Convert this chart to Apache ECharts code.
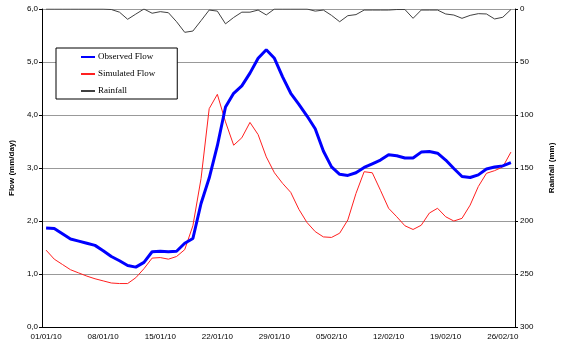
<!DOCTYPE html>
<html>
<head>
<meta charset="utf-8">
<script src="https://cdn.jsdelivr.net/npm/echarts@6/dist/echarts.min.js"></script>
<style>
html,body{margin:0;padding:0;background:#fff;}
#chart{width:564px;height:348px;}
</style>
</head>
<body>
<div id="chart"></div>
<script>
// One value per day, 01/01/10 .. 27/02/10
const dates = [
'01/01/10','02/01/10','03/01/10','04/01/10','05/01/10','06/01/10','07/01/10','08/01/10','09/01/10','10/01/10',
'11/01/10','12/01/10','13/01/10','14/01/10','15/01/10','16/01/10','17/01/10','18/01/10','19/01/10','20/01/10',
'21/01/10','22/01/10','23/01/10','24/01/10','25/01/10','26/01/10','27/01/10','28/01/10','29/01/10','30/01/10',
'31/01/10','01/02/10','02/02/10','03/02/10','04/02/10','05/02/10','06/02/10','07/02/10','08/02/10','09/02/10',
'10/02/10','11/02/10','12/02/10','13/02/10','14/02/10','15/02/10','16/02/10','17/02/10','18/02/10','19/02/10',
'20/02/10','21/02/10','22/02/10','23/02/10','24/02/10','25/02/10','26/02/10','27/02/10'
];
const observedFlow = [
1.87,1.86,1.76,1.66,1.62,1.58,1.54,1.44,1.33,1.25,
1.16,1.13,1.22,1.42,1.43,1.42,1.43,1.58,1.67,2.33,
2.81,3.42,4.15,4.41,4.55,4.79,5.07,5.23,5.07,4.72,
4.41,4.20,3.98,3.74,3.32,3.02,2.88,2.86,2.91,3.01,
3.08,3.15,3.25,3.23,3.19,3.19,3.30,3.31,3.28,3.15,
2.99,2.84,2.82,2.87,2.98,3.02,3.04,3.10
];
const simulatedFlow = [
1.45,1.28,1.18,1.08,1.02,0.96,0.91,0.87,0.83,0.82,
0.82,0.93,1.10,1.30,1.31,1.28,1.33,1.46,1.91,2.80,
4.12,4.39,3.87,3.43,3.57,3.86,3.63,3.21,2.91,2.71,
2.54,2.22,1.97,1.80,1.70,1.69,1.77,2.02,2.52,2.93,
2.91,2.58,2.24,2.08,1.91,1.84,1.92,2.15,2.24,2.08,
2.00,2.05,2.30,2.65,2.90,2.95,3.02,3.30
];
const rainfall = [
0,0,0,0,0,0,0,0,0.5,3,
9.7,4.8,0,4,2.5,3.5,12,22,20.8,11,
1,2,14,8,3,3,1,5.6,0,0,
0,0,0,2,1,6,12,6.3,5.3,1,
1,1,1,0.5,0.5,8.8,1,1,1,4.7,
5.7,8.8,6,4.4,4.7,9.4,7.8,0.5
];
const flowTicks = [0,1,2,3,4,5,6];
const rainTicks = [0,50,100,150,200,250,300];

const chart = echarts.init(document.getElementById('chart'), null, {renderer:'canvas'});
const axisFont = {fontFamily:'Liberation Sans, Arial, sans-serif', fontSize:8, color:'#000'};
chart.setOption({
  animation:false,
  backgroundColor:'#fff',
  grid:{left:27, right:33, top:9, bottom:21, containLabel:false},
  legend:{
    orient:'vertical', left:56, top:48,
    data:['Observed Flow','Simulated Flow','Rainfall'],
    backgroundColor:'#fff', borderColor:'#000', borderWidth:1, borderRadius:0,
    padding:[4,22,3,24],
    itemWidth:14, itemHeight:10, itemGap:7,
    itemStyle:{opacity:0},
    textStyle:{fontFamily:'Liberation Serif, Times New Roman, serif', fontSize:9, color:'#000', lineHeight:10, padding:[0,0,0,-2]}
  },
  xAxis:{
    type:'category', data:dates, boundaryGap:true,
    axisLine:{onZero:false, lineStyle:{color:'#000', width:1}},
    axisTick:{interval:6, alignWithLabel:false, length:3, lineStyle:{color:'#000'}},
    axisLabel:Object.assign({interval:6, margin:6}, axisFont),
    splitLine:{show:false}
  },
  yAxis:[
    {
      type:'value', min:flowTicks[0], max:flowTicks[flowTicks.length-1], interval:1, position:'left',
      name:'Flow (mm/day)', nameLocation:'middle', nameRotate:90, nameGap:21,
      nameTextStyle:{fontFamily:'Liberation Sans, Arial, sans-serif', fontSize:8, fontWeight:'bold', color:'#000'},
      axisLine:{show:true, lineStyle:{color:'#000', width:1}},
      axisTick:{show:true, length:3, lineStyle:{color:'#000'}},
      axisLabel:Object.assign({margin:4, formatter:v=>v.toFixed(1).replace('.',',')}, axisFont),
      splitLine:{show:true, lineStyle:{color:'#999', width:1}}
    },
    {
      type:'value', min:rainTicks[0], max:rainTicks[rainTicks.length-1], interval:50, position:'right', inverse:true,
      name:'Rainfall (mm)', nameLocation:'middle', nameRotate:90, nameGap:33,
      nameTextStyle:{fontFamily:'Liberation Sans, Arial, sans-serif', fontSize:8, fontWeight:'bold', color:'#000'},
      axisLine:{show:true, lineStyle:{color:'#000', width:1}},
      axisTick:{show:true, length:3, lineStyle:{color:'#000'}},
      axisLabel:Object.assign({margin:5}, axisFont),
      splitLine:{show:false}
    }
  ],
  series:[
    {name:'Observed Flow', type:'line', yAxisIndex:0, data:observedFlow, symbol:'none', z:4,
     lineStyle:{color:'#0000ff', width:3}, itemStyle:{color:'#0000ff'}},
    {name:'Simulated Flow', type:'line', yAxisIndex:0, data:simulatedFlow, symbol:'none', z:3,
     lineStyle:{color:'#ff2020', width:1}, itemStyle:{color:'#ff2020'}},
    {name:'Rainfall', type:'line', yAxisIndex:1, data:rainfall, symbol:'none', z:5,
     lineStyle:{color:'#404040', width:1}, itemStyle:{color:'#404040'}}
  ]
});
</script>
</body>
</html>
